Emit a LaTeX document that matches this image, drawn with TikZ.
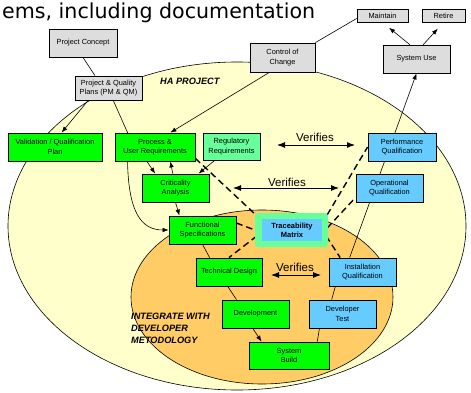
\documentclass[tikz,border=0pt]{standalone}
\usepackage{fontspec}
\setmainfont{Liberation Sans}
\newfontfamily\titlefont{DejaVu Sans}
\usetikzlibrary{arrows.meta,calc}
\definecolor{ellyellow}{HTML}{FFFFCC}
\definecolor{ellorange}{HTML}{FFCC66}
\definecolor{boxgreen}{HTML}{00FF00}
\definecolor{boxblue}{HTML}{66CCFF}
\definecolor{boxmint}{HTML}{66FF99}
\definecolor{boxgray}{HTML}{DDDDDD}
\pgfdeclarelayer{background}
\pgfdeclarelayer{edges}
\pgfsetlayers{background,edges,main}
\tikzset{
  box/.style={draw=black, line width=0.8pt, align=center, inner sep=0pt,
    font=\fontsize{7.4}{9.3}\selectfont, text=black},
  gbox/.style={box, fill=boxgreen},
  bbox/.style={box, fill=boxblue},
  graybox/.style={box, fill=boxgray},
  mbox/.style={box, fill=boxmint},
  conn/.style={line width=0.6pt},
  arr/.style={conn, -{Latex[length=6pt,width=4.5pt]}},
  tracedash/.style={line width=1.4pt, dash pattern=on 6.5pt off 4pt},
  verarrow/.style={line width=0.9pt, {Latex[length=8pt,width=6pt]}-{Latex[length=8pt,width=6pt]}},
  vertext/.style={font=\fontsize{11.5}{13}\selectfont, inner sep=0pt, anchor=base},
  zonelabel/.style={font=\fontsize{9.2}{12}\selectfont\bfseries\itshape, inner sep=0pt, align=left},
}
\begin{document}
\begin{tikzpicture}[x=1pt,y=-1pt]
\useasboundingbox (0,0) rectangle (471,393);

% zones
\begin{pgfonlayer}{background}
  \filldraw[fill=ellyellow, draw=black, line width=0.6pt] (237,226) ellipse [x radius=229, y radius=164];
  \filldraw[fill=ellorange, draw=black, line width=0.6pt] (262,297) ellipse [x radius=131, y radius=87];
\end{pgfonlayer}

% title
\node[anchor=base west, inner sep=0pt, font=\titlefont\fontsize{20.6}{24}\selectfont] (title) at (2,18.5) {ems, including documentation};

% zone labels
\node[zonelabel, anchor=base west] (haproj) at (160,84.5) {HA PROJECT};
\node[zonelabel, anchor=north west] (integ) at (131,312.5) {INTEGRATE WITH\\DEVELOPER\\METODOLOGY};

% gray boxes
\node[graybox, minimum width=68pt, minimum height=28pt] (concept) at (83,43) {Project Concept};
\node[graybox, minimum width=67pt, minimum height=24pt] (plans) at (108.5,88) {Project \& Quality\\Plans (PM \& QM)};
\node[graybox, minimum width=65pt, minimum height=29pt] (coc) at (282.5,57.5) {Control of\\Change};
\node[graybox, minimum width=51pt, minimum height=13pt] (maintain) at (382.5,15.5) {Maintain};
\node[graybox, minimum width=43pt, minimum height=13pt] (retire) at (443.5,15.5) {Retire};
\node[graybox, minimum width=67pt, minimum height=28pt] (sysuse) at (416.5,59) {System Use};

% green boxes
\node[gbox, minimum width=94pt, minimum height=28pt] (valplan) at (55,147) {Validation / Qualification\\Plan};
\node[gbox, minimum width=80pt, minimum height=28pt] (proc) at (155,147) {Process \&\\User Requirements};
\node[mbox, minimum width=57pt, minimum height=27pt] (reg) at (231.5,146.5) {Regulatory\\Requirements};
\node[gbox, minimum width=67pt, minimum height=28pt] (crit) at (175.5,188) {Criticality\\Analysis};
\node[gbox, minimum width=67pt, minimum height=28pt] (fs) at (202.5,230) {Functional\\Specifications};
\node[gbox, minimum width=66pt, minimum height=28pt] (td) at (229,272) {Technical Design};
\node[gbox, minimum width=67pt, minimum height=28pt] (dev) at (255.5,314) {Development};
\node[gbox, minimum width=80pt, minimum height=27pt] (sb) at (289,355.5) {System\\Build};

% traceability
\node[fill=boxmint, rounded corners=3pt, minimum width=73pt, minimum height=34pt, inner sep=0pt] (trace) at (291.5,230) {};
\node[fill=boxblue, minimum width=60pt, minimum height=22pt, inner sep=0pt, align=center,
      font=\fontsize{7.5}{9.3}\selectfont\bfseries] (tracein) at (292,230) {Traceability\\Matrix};

% blue boxes
\node[bbox, minimum width=68pt, minimum height=28pt] (pq) at (402,147) {Performance\\Qualification};
\node[bbox, minimum width=67pt, minimum height=28pt] (oq) at (389.5,188) {Operational\\Qualification};
\node[bbox, minimum width=67pt, minimum height=28pt] (iq) at (362.5,272) {Installation\\Qualification};
\node[bbox, minimum width=67pt, minimum height=28pt] (dt) at (342.5,314) {Developer\\Test};

% connectors
\begin{pgfonlayer}{edges}
  \draw[conn] (concept.south) -- ($(plans.north west)!0.3!(plans.north east)$);
  \draw[arr] ($(plans.south west)!0.2!(plans.south east)$) -- ($(valplan.north west)!0.57!(valplan.north east)$);
  \draw[arr] ($(plans.south west)!0.57!(plans.south east)$) -- ($(proc.north west)!0.16!(proc.north east)$)
     -- ($(proc.south west)!0.16!(proc.south east)$) .. controls +(1,50) and +(-28,0) .. (fs.west);
  \draw[arr] ($(coc.south west)!0.3!(coc.south east)$) -- ($(proc.north west)!0.69!(proc.north east)$);
  \draw[conn] (coc.north east) -- ($(maintain.west)+(0,3)$);
  \draw[arr, shorten >=8.5pt] ($(sysuse.north west)!0.4!(sysuse.north east)$) -- (maintain.south);
  \draw[arr, shorten >=8.5pt] ($(sysuse.north west)!0.6!(sysuse.north east)$) -- (retire.south);
  \draw[arr] ($(iq.north west)!0.31!(iq.north east)$) -- (sysuse.south);
  \draw[conn] ($(dt.north west)!0.34!(dt.north east)$) -- ($(iq.south west)!0.1!(iq.south east)$);
  \draw[conn] ($(sb.north west)!0.85!(sb.north east)$) -- ($(dt.south west)!0.16!(dt.south east)$);
  \draw[arr] ($(dev.south west)!0.46!(dev.south east)$) -- ($(sb.north west)!0.16!(sb.north east)$);
  \draw[conn] ($(td.south west)!0.48!(td.south east)$) -- ($(dev.north west)!0.22!(dev.north east)$);
  \draw[conn] (fs.south) -- ($(td.north west)!0.21!(td.north east)$);
  \draw[arr] ($(proc.south west)!0.4!(proc.south east)$) -- ($(crit.north west)!0.2!(crit.north east)$);
  \draw[arr] ($(crit.north west)!0.46!(crit.north east)$) -- ($(proc.south west)!0.69!(proc.south east)$);
  \draw[arr] (crit.south) -- ($(fs.north west)!0.16!(fs.north east)$);
  \draw[arr] ($(reg.south west)!0.21!(reg.south east)$) -- ($(crit.north west)!0.84!(crit.north east)$);
  % traceability links
  \draw[tracedash] ($(proc.south east)+(0,-3)$) -- ($(trace.north west)+(2,3)$);
  \draw[tracedash] ($(fs.east)+(0,-7)$) -- (trace.west);
  \draw[tracedash] ($(trace.west)+(2,6)$) -- (td.north);
  \draw[tracedash] ($(trace.north east)+(-1,2)$) -- (pq.west);
  \draw[tracedash] ($(trace.east)+(-1,-2)$) -- ($(oq.south west)+(0,-5)$);
  \draw[tracedash] ($(trace.east)+(-2,6)$) -- ($(iq.north west)!0.17!(iq.north east)$);
\end{pgfonlayer}

% verifies
\coordinate (v1a) at (277,145);
\coordinate (v1b) at (355,145);
\draw[verarrow] (v1a) -- (v1b);
\node[vertext] (v1t) at (315,142) {Verifies};
\coordinate (v2a) at (233,188);
\coordinate (v2b) at (339,188);
\draw[verarrow] (v2a) -- (v2b);
\node[vertext] (v2t) at (287,186) {Verifies};
\coordinate (v3a) at (271,275);
\coordinate (v3b) at (321,275);
\draw[verarrow] (v3a) -- (v3b);
\node[vertext] (v3t) at (295,271.5) {Verifies};
\end{tikzpicture}
\end{document}
